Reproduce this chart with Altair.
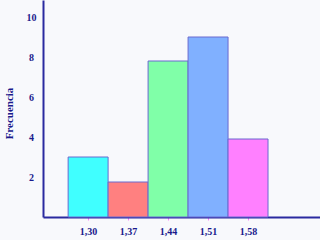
import altair as alt
import pandas as pd

centers = [1.30, 1.37, 1.44, 1.51, 1.58]
freqs = [3.0, 1.75, 7.8, 9.0, 3.9]
colors = ["#40ffff", "#ff8080", "#80ffa8", "#80b0ff", "#ff80ff"]
half_width = 0.035

df = pd.DataFrame({
    "c": centers,
    "f": freqs,
    "col": colors,
})
df["x0"] = df["c"] - half_width
df["x1"] = df["c"] + half_width

navy = "#1a1a8c"
font = "Liberation Serif"

bars = alt.Chart(df).mark_rect(stroke="#6a6ad0", strokeWidth=1).encode(
    x=alt.X("x0:Q", scale=alt.Scale(domain=[1.221, 1.706], nice=False, zero=False),
            axis=alt.Axis(values=centers, title=None, grid=False,
                          labelExpr="replace(format(datum.value, '.2f'), '.', ',')",
                          tickColor="#ff80ff", tickSize=3, tickWidth=1,
                          domainColor="#2a2aa0", domainWidth=2,
                          labelFont=font, labelFontSize=10, labelFontWeight="bold",
                          labelColor=navy, labelPadding=6)),
    x2="x1:Q",
    y=alt.Y("f:Q", scale=alt.Scale(domain=[0, 10.85], nice=False),
            axis=alt.Axis(values=[2, 4, 6, 8, 10], title="Frecuencia", grid=False,
                          ticks=False, domainColor="#2a2aa0", domainWidth=2,
                          labelFont=font, labelFontSize=10, labelFontWeight="bold",
                          labelColor=navy, labelAlign="center", labelPadding=12,
                          titleFont=font, titleFontSize=11, titleFontWeight="bold",
                          titleColor=navy, titleX=-29, titleY=113, titleAngle=270)),
    y2=alt.datum(0),
    color=alt.Color("col:N", scale=None),
)

chart = bars.properties(
    width=277, height=217,
    autosize=alt.AutoSizeParams(type="none"),
    padding={"left": 43, "top": 0, "right": 0, "bottom": 23},
    background="#f8f9fc",
).configure_view(stroke=None)

chart.save("out.html", embed_options={"renderer": "svg", "actions": False})
